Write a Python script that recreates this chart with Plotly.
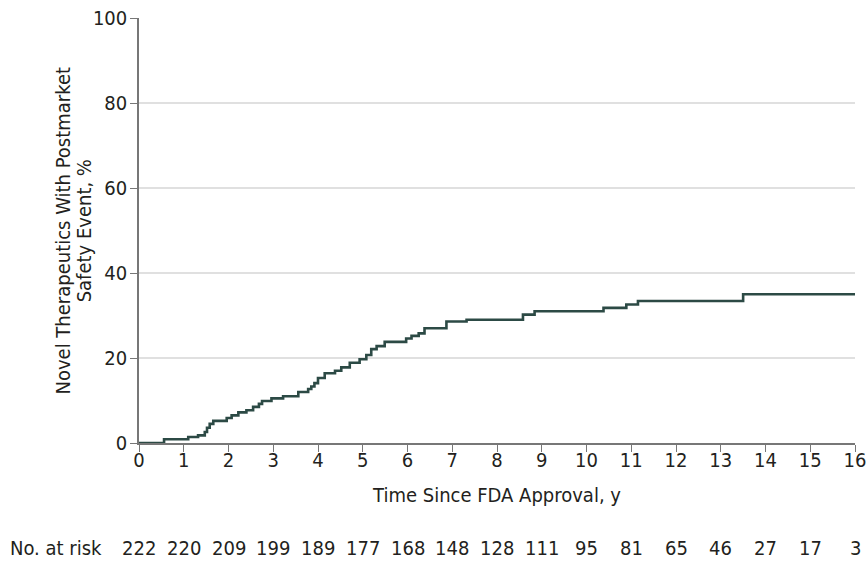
import plotly.graph_objects as go

# Kaplan-Meier style cumulative incidence (step points)
years = [0, 0.56, 1.10, 1.32, 1.47, 1.52, 1.58, 1.66, 1.96, 2.07, 2.22, 2.40, 2.55,
         2.68, 2.75, 2.96, 3.22, 3.56, 3.78, 3.85, 3.92, 4.00, 4.15, 4.38, 4.52,
         4.71, 4.93, 5.08, 5.19, 5.31, 5.49, 5.97, 6.09, 6.25, 6.38, 6.87, 7.32,
         8.58, 8.84, 10.38, 10.89, 11.15, 13.50, 16.02]
percent = [0, 0.9, 1.4, 1.8, 2.6, 3.6, 4.5, 5.2, 5.9, 6.5, 7.2, 7.7, 8.5,
           9.2, 9.9, 10.5, 11.0, 12.0, 12.7, 13.3, 14.1, 15.3, 16.4, 17.0, 17.8,
           18.9, 19.7, 20.7, 22.1, 22.8, 23.8, 24.6, 25.2, 25.8, 27.0, 28.6, 29.0,
           30.2, 31.0, 31.8, 32.6, 33.4, 35.0, 35.0]

risk_years = list(range(0, 17))
at_risk = [222, 220, 209, 199, 189, 177, 168, 148, 128, 111, 95, 81, 65, 46, 27, 17, 3]
y_ticks = [0, 20, 40, 60, 80, 100]
grid_vals = [20, 40, 60, 80]
y_title_lines = ["Novel Therapeutics With Postmarket", "Safety Event, %"]

FONT = "DejaVu Sans Condensed, Liberation Sans Narrow, sans-serif"
TXT = "#231f20"
FS = 20

fig = go.Figure()
fig.add_trace(go.Scatter(x=years, y=percent, mode="lines", line_shape="hv",
                         line=dict(color="#2c4a45", width=2.6), showlegend=False,
                         hoverinfo="skip"))

for t, n in zip(risk_years, at_risk):
    fig.add_annotation(x=t, xref="x", y=-0.247, yref="paper", text=str(n),
                       showarrow=False, xanchor="center", yanchor="middle",
                       font=dict(family=FONT, size=FS, color=TXT))
fig.add_annotation(x=-0.183, xref="paper", y=-0.247, yref="paper", text="No. at risk",
                   showarrow=False, xanchor="left", yanchor="middle",
                   font=dict(family=FONT, size=FS, color=TXT))

for xp, line in zip([-0.1075, -0.0770], y_title_lines):
    fig.add_annotation(x=xp, xref="paper", y=0.5, yref="paper", text=line,
                       textangle=-90, showarrow=False, xanchor="center",
                       yanchor="middle", font=dict(family=FONT, size=FS, color=TXT))

fig.update_layout(
    width=866, height=564,
    margin=dict(l=139, r=11, t=18, b=121),
    plot_bgcolor="white", paper_bgcolor="white",
    font=dict(family=FONT, size=FS, color=TXT),
    xaxis=dict(range=[0, 16], tickmode="array", tickvals=risk_years,
               ticks="outside", ticklen=7, tickcolor="#777777", tickwidth=1.2,
               showline=True, linecolor="#777777", linewidth=1.5,
               showgrid=False, zeroline=False, ticklabelstandoff=-9,
               automargin=False, ticklabeloverflow="allow",
               title=dict(text="Time Since FDA Approval, y", standoff=17,
                          font=dict(size=FS)),
               tickfont=dict(size=FS)),
    yaxis=dict(range=[0, 100], tickmode="array", tickvals=y_ticks,
               ticks="outside", ticklen=7, tickcolor="#777777", tickwidth=1.2,
               showline=True, linecolor="#777777", linewidth=1.5,
               showgrid=False, zeroline=False, ticklabelstandoff=-1,
               automargin=False, ticklabeloverflow="allow",
               tickfont=dict(size=FS)),
)

for g in grid_vals:
    fig.add_shape(type="line", xref="paper", x0=0, x1=1, yref="y", y0=g, y1=g,
                  line=dict(color="#d6d6d6", width=1.5), layer="below")

fig.write_html("out.html", config={"displayModeBar": False},
               post_script="document.body.style.margin='0px';")
